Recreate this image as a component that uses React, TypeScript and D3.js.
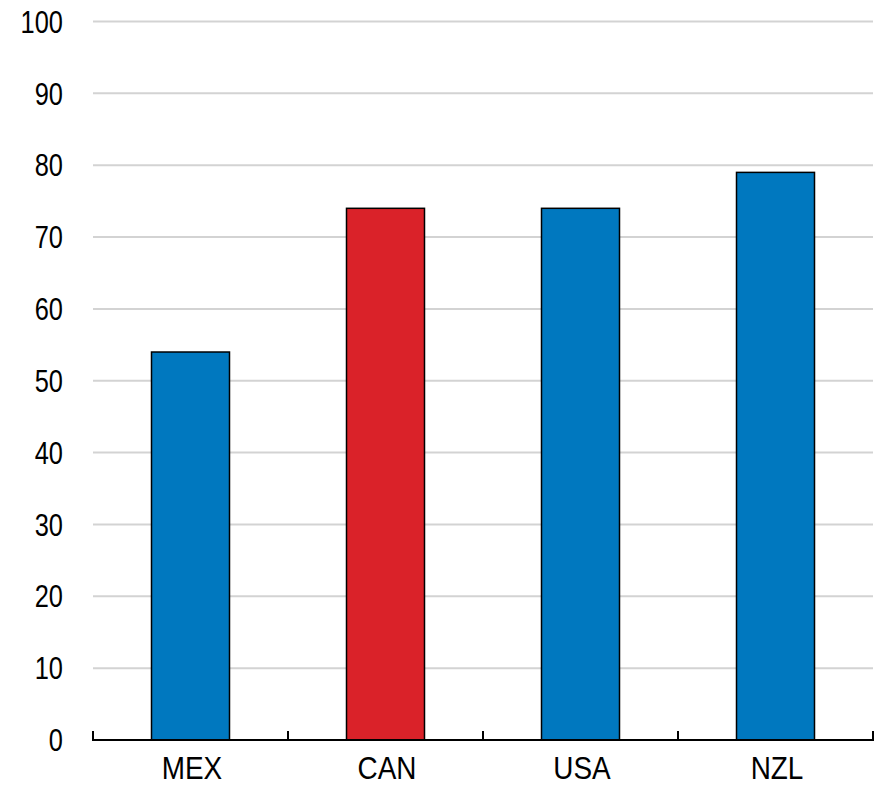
import React from "react";
import * as d3 from "d3";

const categories = ["MEX", "CAN", "USA", "NZL"];
const values = [54, 74, 74, 79];
const highlight = ["CAN"];
const yTicks = [0, 10, 20, 30, 40, 50, 60, 70, 80, 90, 100];

const W = 881;
const H = 785;
const left = 93;
const right = 873;
const top = 21.5;
const bottom = 740;

export default function App() {
  const x = d3.scaleBand<string>().domain(categories).range([left, right]).paddingInner(0.6).paddingOuter(0.3);
  const y = d3.scaleLinear().domain([0, 100]).range([bottom, top]);
  const step = x.step();
  const tickXs = d3.range(categories.length + 1).map((i) => left + i * step);
  const font = "'Liberation Sans', Arial, sans-serif";
  const sx = 0.82;
  const sxLabel = 0.9;
  return (
    <svg width={W} height={H} style={{ position: "absolute", left: 0, top: 0, background: "#fff" }}>
      {yTicks.filter((t) => t > 0).map((t) => (
        <line key={"g" + t} x1={left} x2={right} y1={y(t)} y2={y(t)} stroke="#d3d3d3" strokeWidth={2} />
      ))}
      {yTicks.map((t) => (
        <text
          key={"t" + t}
          transform={`translate(63,${y(t)}) scale(${sx},1)`}
          dy="0.36em"
          textAnchor="end"
          fontFamily={font}
          fontSize={31}
          fill="#000"
        >
          {t}
        </text>
      ))}
      {categories.map((c, i) => (
        <rect
          key={c}
          x={x(c)}
          y={y(values[i])}
          width={x.bandwidth()}
          height={y(0) - y(values[i])}
          fill={highlight.includes(c) ? "#DA2229" : "#0078BF"}
          stroke="#000"
          strokeWidth={1.5}
        />
      ))}
      <line x1={left} x2={right} y1={bottom} y2={bottom} stroke="#000" strokeWidth={2} />
      {tickXs.map((tx, i) => (
        <line key={"k" + i} x1={tx} x2={tx} y1={bottom + 1} y2={bottom - 9} stroke="#000" strokeWidth={2} />
      ))}
      {categories.map((c) => (
        <text
          key={"l" + c}
          transform={`translate(${(x(c) as number) + x.bandwidth() / 2 + 1.5},779) scale(${sxLabel},1)`}
          textAnchor="middle"
          fontFamily={font}
          fontSize={31}
          fill="#000"
        >
          {c}
        </text>
      ))}
    </svg>
  );
}
